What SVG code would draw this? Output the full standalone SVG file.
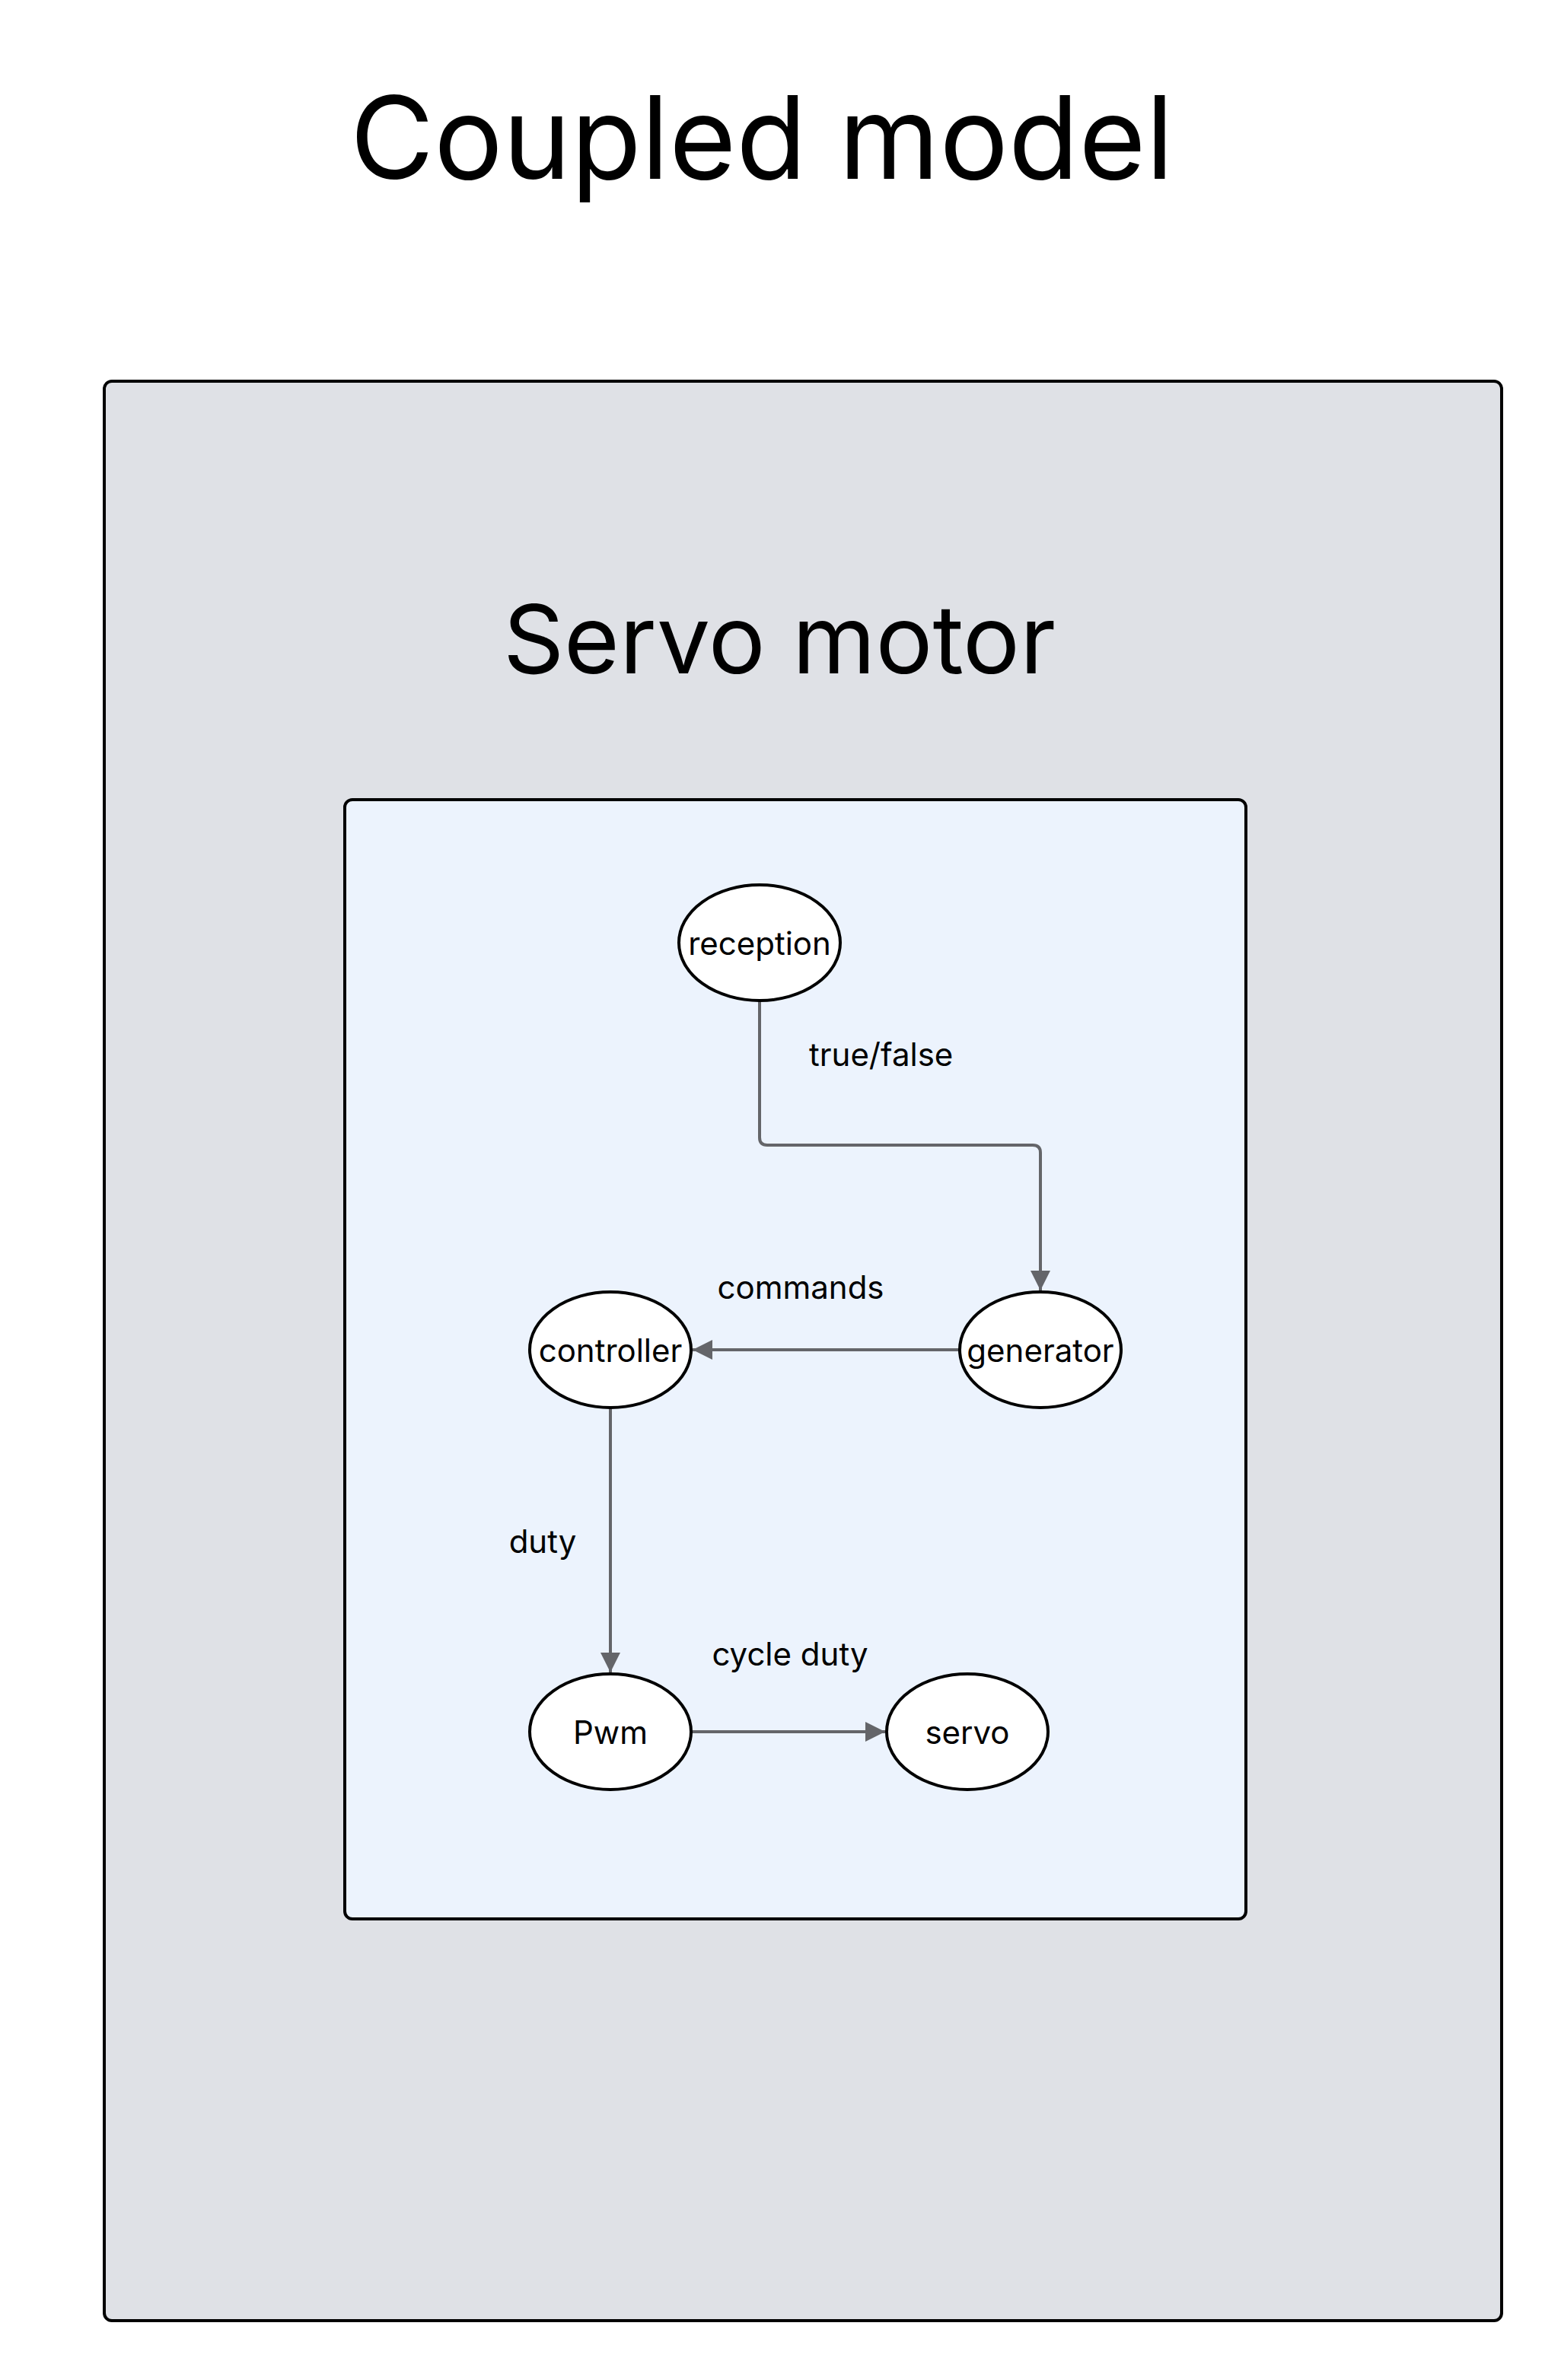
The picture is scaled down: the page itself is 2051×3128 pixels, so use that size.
<svg xmlns="http://www.w3.org/2000/svg" width="2051" height="3128" viewBox="0 0 2051 3128">
<style>
text{font-family:Inter,"Liberation Sans",sans-serif;fill:#000}
.title{font-size:151px}
.sub{font-size:125px}
.node ellipse{fill:#fff;stroke:#000;stroke-width:4}
.node text{font-size:42px;text-anchor:middle;dominant-baseline:central}
.lbl{font-size:42px}
.edge{fill:none;stroke:#646569;stroke-width:4}
</style>
<defs>
<marker id="arr" viewBox="0 0 10 10" refX="10" refY="5" markerWidth="6.5" markerHeight="6.5" markerUnits="strokeWidth" orient="auto">
<path d="M0,0 L10,5 L0,10 z" fill="#646569"/>
</marker>
</defs>
<rect width="2051" height="3128" fill="#fff"/>
<text class="title" x="1001" y="235" text-anchor="middle">Coupled model</text>
<g id="coupled-model">
<rect x="137" y="501" width="1836" height="2549" rx="10" fill="#dfe1e6" stroke="#000" stroke-width="4"/>
</g>
<text class="sub" x="1024" y="885" text-anchor="middle">Servo motor</text>
<g id="servo-motor">
<rect x="453" y="1051" width="1184" height="1471" rx="10" fill="#ecf3fd" stroke="#000" stroke-width="4"/>
</g>
<g id="connectors">
<path class="edge" d="M998,1315 V1495 Q998,1505 1008,1505 H1357 Q1367,1505 1367,1515 V1696" marker-end="url(#arr)"/>
<path class="edge" d="M1261,1774 H910" marker-end="url(#arr)"/>
<path class="edge" d="M802,1850 V2198" marker-end="url(#arr)"/>
<path class="edge" d="M908,2276 H1163" marker-end="url(#arr)"/>
<text class="lbl" x="1063" y="1401">true/false</text>
<text class="lbl" x="1052" y="1707" text-anchor="middle">commands</text>
<text class="lbl" x="713" y="2041" text-anchor="middle">duty</text>
<text class="lbl" x="1038" y="2189" text-anchor="middle">cycle duty</text>
</g>
<g id="reception" class="node"><ellipse cx="998" cy="1239" rx="106" ry="76"/><text x="998" y="1239">reception</text></g>
<g id="generator" class="node"><ellipse cx="1367" cy="1774" rx="106" ry="76"/><text x="1367" y="1774">generator</text></g>
<g id="controller" class="node"><ellipse cx="802" cy="1774" rx="106" ry="76"/><text x="802" y="1774">controller</text></g>
<g id="pwm" class="node"><ellipse cx="802" cy="2276" rx="106" ry="76"/><text x="802" y="2276">Pwm</text></g>
<g id="servo" class="node"><ellipse cx="1271" cy="2276" rx="106" ry="76"/><text x="1271" y="2276">servo</text></g>
</svg>
